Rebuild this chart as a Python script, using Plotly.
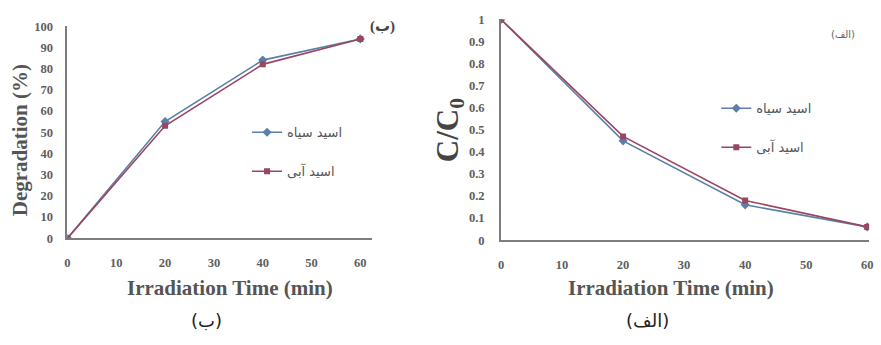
import plotly.graph_objects as go

# Irradiation time points (min)
time_min = [0, 20, 40, 60]

# Panel (ب): degradation percentage
deg_black = [0, 55, 84, 94]
deg_blue = [0, 53, 82, 94]

# Panel (الف): normalised concentration C/C0
cc_black = [1.0, 0.45, 0.16, 0.06]
cc_blue = [1.0, 0.47, 0.18, 0.06]

series_names = ["اسید سیاه", "اسید آبی"]
x_ticks = [0, 10, 20, 30, 40, 50, 60]
deg_ticks = list(range(0, 101, 10))
cc_ticks = [0, 0.1, 0.2, 0.3, 0.4, 0.5, 0.6, 0.7, 0.8, 0.9, 1]
cc_ticktext = ["0", "0.1", "0.2", "0.3", "0.4", "0.5", "0.6", "0.7", "0.8", "0.9", "1"]

W, H = 881, 345
SERIF = "Liberation Serif, Times New Roman, DejaVu Serif, serif"
ARAB = "DejaVu Sans, Noto Sans, sans-serif"
BLUE = "#5a7fa8"
RED = "#9a4660"
AXIS = "#7d7d7d"
TICKC = "#5e5e5e"

def px(x):
    return x / W

def py(y):
    return 1 - y / H

fig = go.Figure()

# left panel traces
fig.add_trace(go.Scatter(x=time_min, y=deg_black, name=series_names[0], mode="lines+markers",
                         line=dict(color=BLUE, width=1.6), marker=dict(symbol="diamond", size=7, color=BLUE),
                         xaxis="x", yaxis="y", legend="legend", legendgroup="a1"))
fig.add_trace(go.Scatter(x=time_min, y=deg_blue, name=series_names[1], mode="lines+markers",
                         line=dict(color=RED, width=1.6), marker=dict(symbol="square", size=6, color=RED),
                         xaxis="x", yaxis="y", legend="legend", legendgroup="a2"))

# right panel traces
fig.add_trace(go.Scatter(x=time_min, y=cc_black, name=series_names[0], mode="lines+markers",
                         line=dict(color=BLUE, width=1.6), marker=dict(symbol="diamond", size=7, color=BLUE),
                         xaxis="x2", yaxis="y2", legend="legend2", legendgroup="b1"))
fig.add_trace(go.Scatter(x=time_min, y=cc_blue, name=series_names[1], mode="lines+markers",
                         line=dict(color=RED, width=1.6), marker=dict(symbol="square", size=6, color=RED),
                         xaxis="x2", yaxis="y2", legend="legend2", legendgroup="b2"))

tickfont = dict(family=SERIF, size=12.5, color=TICKC, weight="bold")

axis_common = dict(showline=True, linecolor=AXIS, linewidth=2, showgrid=False, zeroline=False,
                   ticks="", tickfont=tickfont, fixedrange=True)

legend_font = dict(family=ARAB, size=13, color="#555")

fig.update_layout(
    width=W, height=H,
    margin=dict(l=0, r=0, t=0, b=0),
    paper_bgcolor="white", plot_bgcolor="white",
    xaxis=dict(domain=[px(65), px(372)], range=[0, 62.4], tickvals=x_ticks,
               anchor="y", ticklabelstandoff=12, **axis_common),
    yaxis=dict(domain=[py(241), py(20)], range=[0, 100], tickvals=deg_ticks,
               anchor="x", ticklabelstandoff=10, **axis_common),
    xaxis2=dict(domain=[px(502), px(873)], range=[0, 60.3], tickvals=x_ticks,
                anchor="y2", ticklabelstandoff=12, **axis_common),
    yaxis2=dict(domain=[py(243), py(13)], range=[0, 1], tickvals=cc_ticks, ticktext=cc_ticktext,
                anchor="x2", ticklabelstandoff=12, **axis_common),
    legend=dict(x=px(246), y=py(115), xanchor="left", yanchor="top", bgcolor="rgba(0,0,0,0)",
                font=legend_font, tracegroupgap=19,
                traceorder="grouped", itemwidth=30),
    legend2=dict(x=px(719), y=py(90), xanchor="left", yanchor="top", bgcolor="rgba(0,0,0,0)",
                 font=legend_font, tracegroupgap=19,
                 traceorder="grouped", itemwidth=30),
    showlegend=True,
)

annotations = [
    # axis titles
    dict(text="<b>Irradiation Time (min)</b>", x=px(229), y=py(293), font=dict(family=SERIF, size=21, color="#555")),
    dict(text="<b>Irradiation Time (min)</b>", x=px(673), y=py(293), font=dict(family=SERIF, size=21, color="#555")),
    dict(text="<b>Degradation (%)</b>", x=px(18), y=py(139), textangle=-90, font=dict(family=SERIF, size=21, color="#555")),
    dict(text="<b>C/C<sub>0</sub></b>", x=px(450), y=py(128), textangle=-90, font=dict(family=SERIF, size=31, color="#444")),
    # panel tags
    dict(text="<b>(ب)</b>", x=px(383), y=py(20), font=dict(family=SERIF + ", DejaVu Sans", size=15, color="#444")),
    dict(text="(الف)", x=px(847), y=py(29), font=dict(family=ARAB, size=10, color="#666")),
    # captions
    dict(text="(ب)", x=px(205), y=py(327), font=dict(family=ARAB, size=18, color="#222")),
    dict(text="(الف)", x=px(650), y=py(327), font=dict(family=ARAB, size=18, color="#222")),
]
for a in annotations:
    a.update(xref="paper", yref="paper", showarrow=False, xanchor="center", yanchor="middle")
fig.update_layout(annotations=annotations)

fig.write_html("out.html")
